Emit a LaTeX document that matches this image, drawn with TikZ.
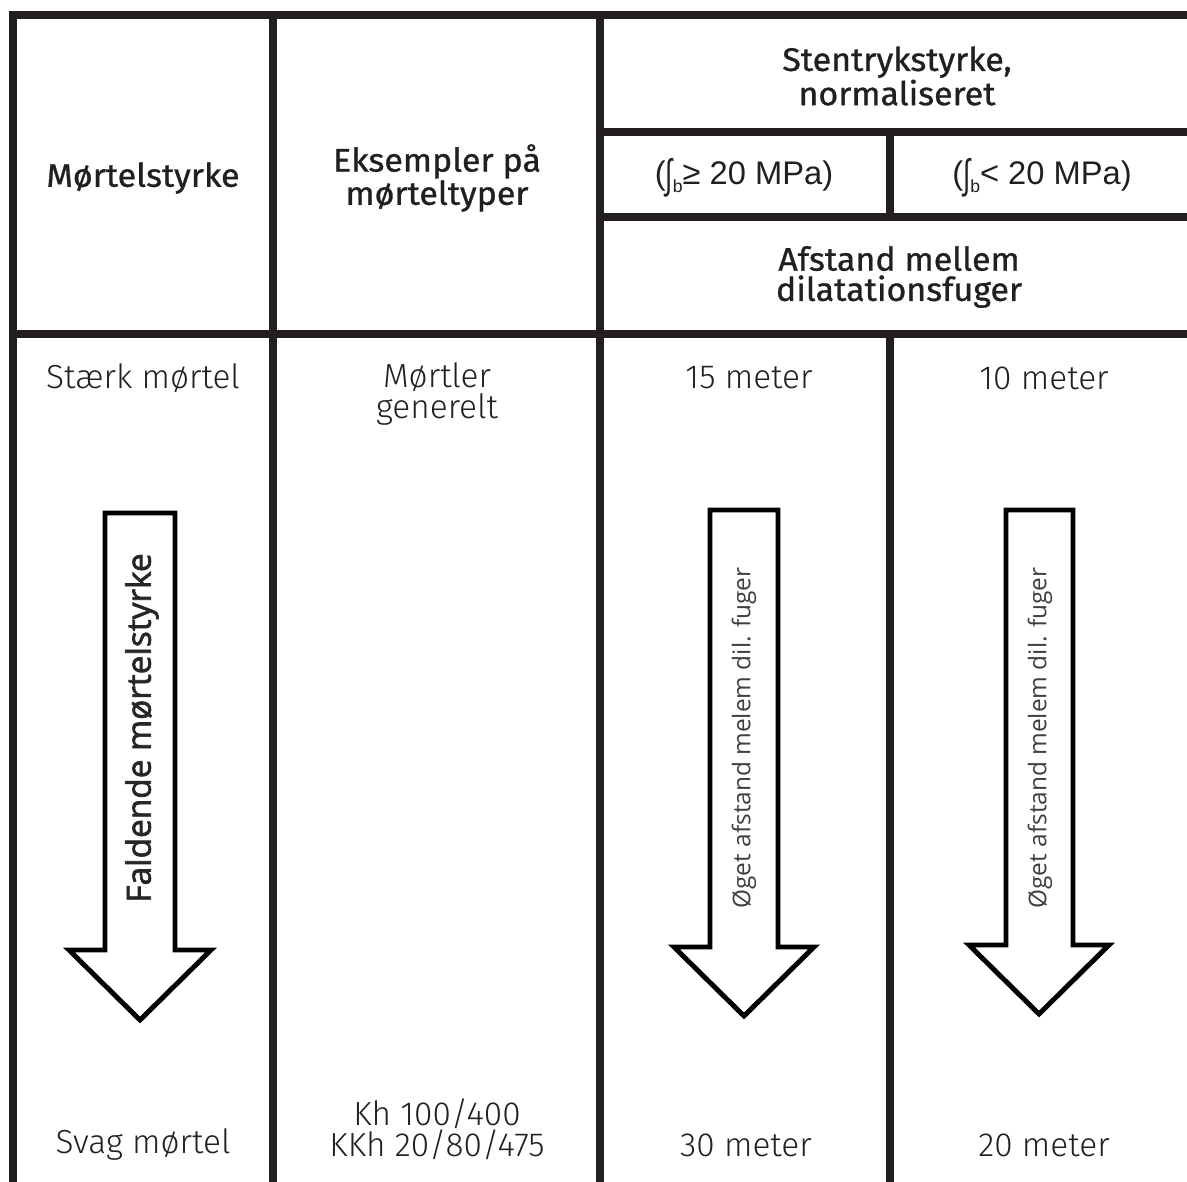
\documentclass[tikz,border=0pt]{standalone}
\usepackage{fontspec}
\setmainfont{Fira Sans}
\newfontfamily\hdrfont{Fira Sans}[FakeBold=0.9, FakeStretch=1.04]
\newfontfamily\bodyfont{Fira Sans Light}
\newfontfamily\arialfont{Liberation Sans}
\newfontfamily\arrowfont{Open Sans}[FakeBold=2]
\newfontfamily\smallarrowfont{Open Sans}
\definecolor{ink}{HTML}{231F20}
\newcommand{\intsym}{\raisebox{-0.12em}{\scalebox{0.8}[1.25]{∫}}}
\newcommand{\subb}[1]{\raisebox{-0.45ex}{\fontsize{10}{10}\selectfont #1}}
\begin{document}
\begin{tikzpicture}[x=0.02cm,y=-0.02cm,
  grid/.style={line width=4.3pt, draw=ink, line cap=rect},
  hdr/.style={font=\hdrfont\fontsize{18.6}{17.2}\selectfont, align=center, text=ink, inner sep=0pt},
  body/.style={font=\bodyfont\fontsize{19}{17.5}\selectfont, align=center, text=ink, inner sep=0pt},
  mpa/.style={font=\arialfont\fontsize{18.6}{19}\selectfont, text=ink, inner sep=0pt},
  blockarrow/.style={draw=black, line width=2.8pt, fill=white, line join=miter},
  bigarrowtext/.style={rotate=90, font=\arrowfont\fontsize{19}{19}\selectfont, text=black!85, inner sep=0pt},
  smallarrowtext/.style={rotate=90, font=\smallarrowfont\fontsize{13.9}{14}\selectfont, text=black!75, inner sep=0pt}]
\useasboundingbox (0,0) rectangle (1187,1182);
% grid lines
\draw[grid] (13,15) -- (1187,15);
\draw[grid] (13,15) -- (13,1182);
\draw[grid] (273,15) -- (273,1182);
\draw[grid] (600,15) -- (600,1182);
\draw[grid] (600,132) -- (1187,132);
\draw[grid] (600,217) -- (1187,217);
\draw[grid] (890,132) -- (890,217);
\draw[grid] (13,334) -- (1187,334);
\draw[grid] (890,334) -- (890,1182);
% header texts
\node[hdr] (h1) at (143,178) {Mørtelstyrke};
\node[hdr] (h2) at (437,178) {Eksempler på\\mørteltyper};
\node[hdr] (h3) at (897,76) {Stentrykstyrke,\\normaliseret};
\node[mpa] (m1) at (744,178) {(\intsym\subb{b}≥ 20 MPa)};
\node[mpa] (m2) at (1042,178) {(\intsym\subb{b}< 20 MPa)};
\node[hdr] (h4) at (899,277) {Afstand mellem\\dilatationsfuger};
% body texts
\node[body] (b1) at (143,378) {Stærk mørtel};
\node[body] (b2) at (437,394) {Mørtler\\generelt};
\node[body] (b3) at (749,378) {15 meter};
\node[body] (b4) at (1044,378) {10 meter};
\node[body] (c1) at (143,1145) {Svag mørtel};
\node[body] (c2) at (437,1129) {Kh 100/400\\KKh 20/80/475};
\node[body] (c3) at (746,1145) {30 meter};
\node[body] (c4) at (1044,1145) {20 meter};
% block arrows
\draw[blockarrow] (105,513) -- (175,513) -- (175,950) -- (211,950) -- (140,1020) -- (69,950) -- (105,950) -- cycle;
\draw[blockarrow] (710,510) -- (778,510) -- (778,947) -- (814,947) -- (744,1016) -- (674,947) -- (710,947) -- cycle;
\draw[blockarrow] (1006,510) -- (1073,510) -- (1073,945) -- (1109,945) -- (1039,1014) -- (969,945) -- (1006,945) -- cycle;
\node[bigarrowtext] (t1) at (142,728) {Faldende mørtelstyrke};
\node[smallarrowtext] (t2) at (744,738) {Øget afstand melem dil. fuger};
\node[smallarrowtext] (t3) at (1040,738) {Øget afstand melem dil. fuger};
\end{tikzpicture}
\end{document}
